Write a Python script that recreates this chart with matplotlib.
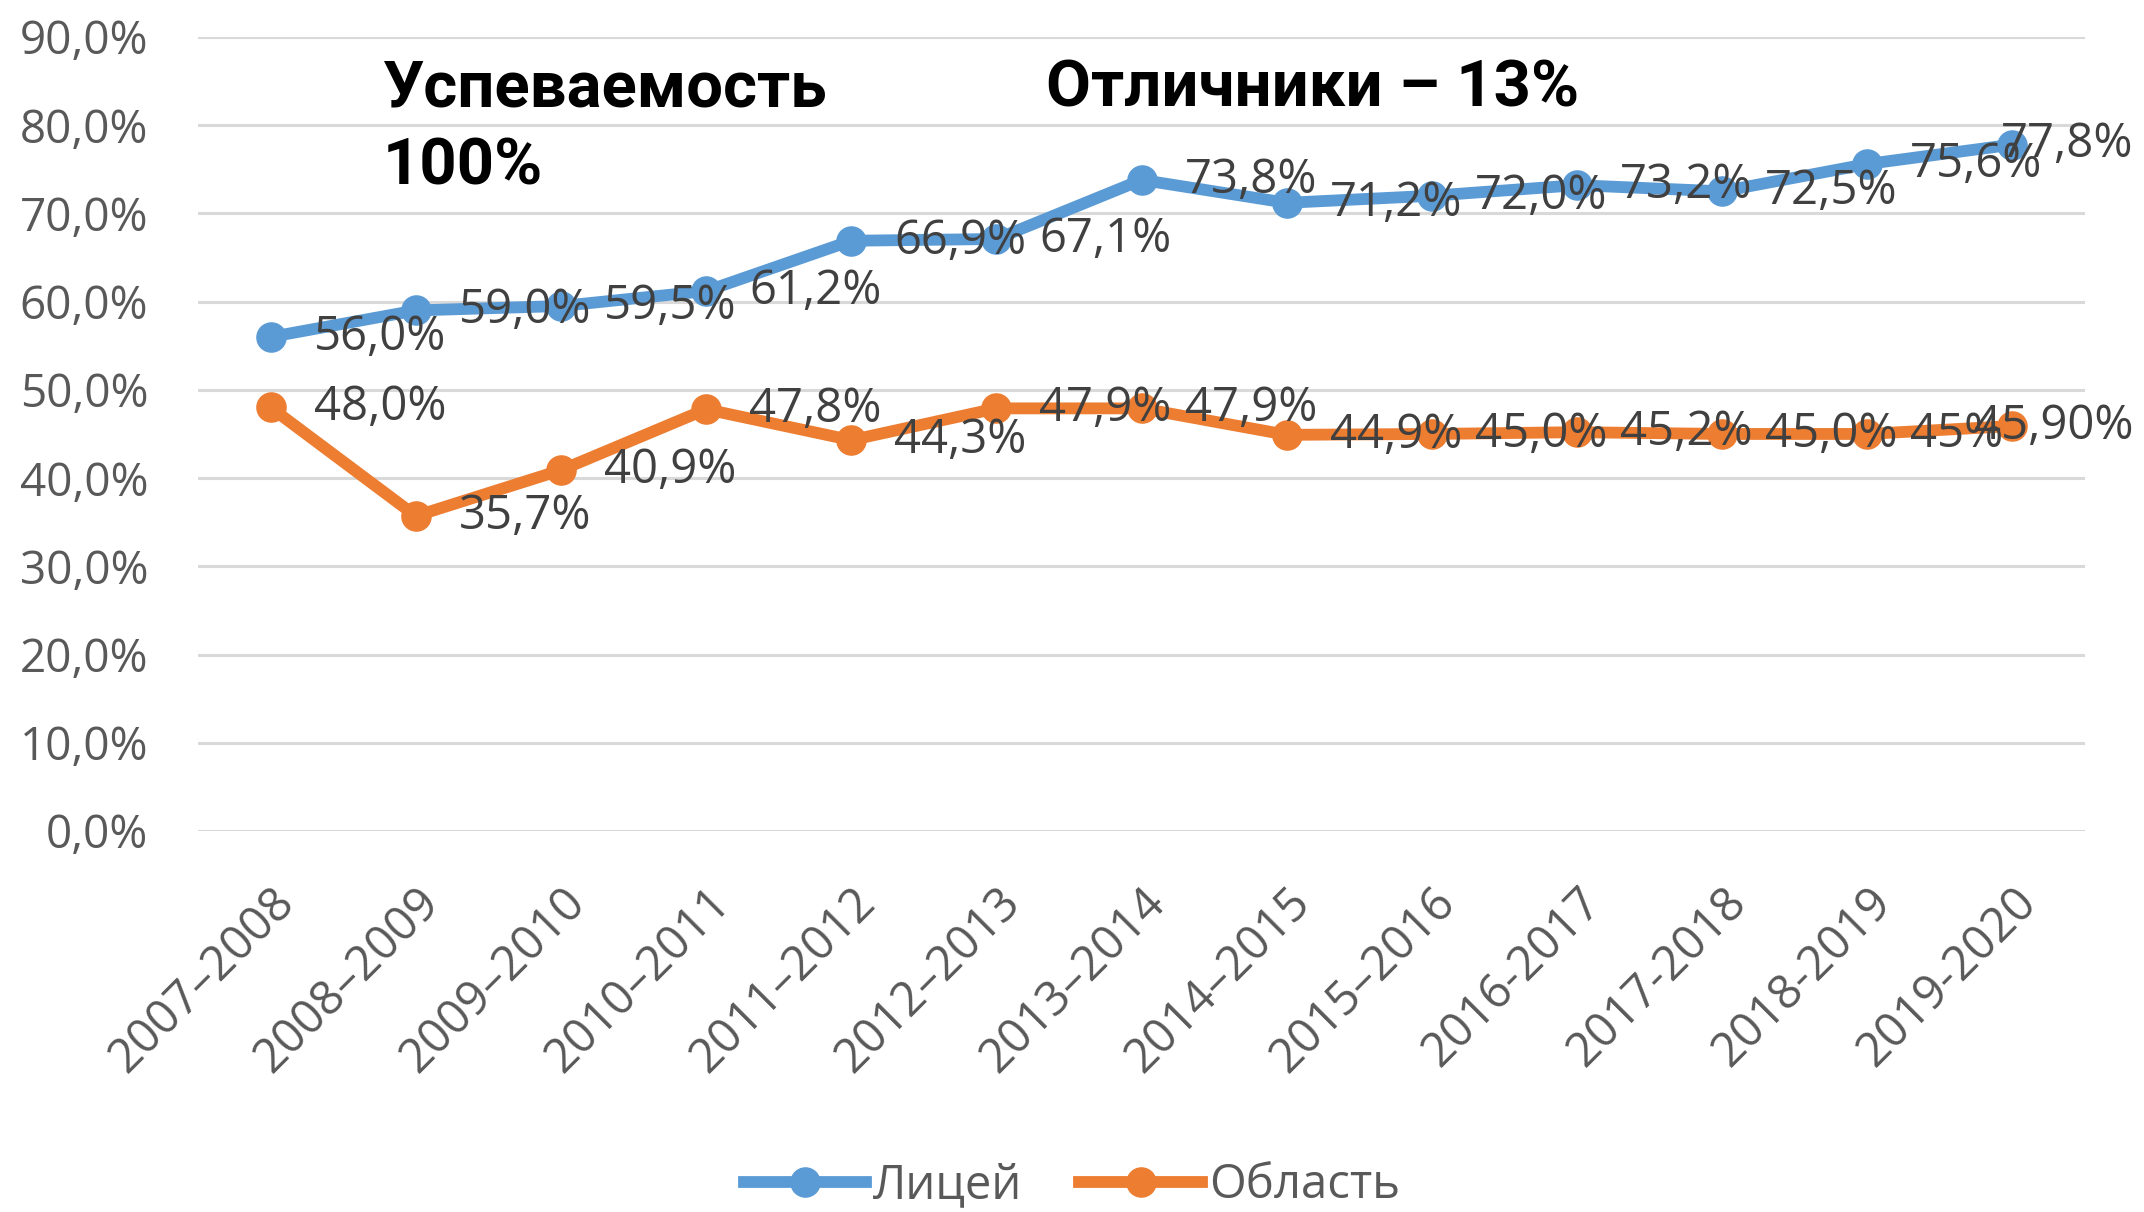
import matplotlib
matplotlib.use("Agg")
import matplotlib.pyplot as plt
from matplotlib.ticker import FuncFormatter
from matplotlib.transforms import blended_transform_factory

# данные
years = ["2007–2008", "2008–2009", "2009–2010", "2010–2011", "2011–2012",
         "2012–2013", "2013–2014", "2014–2015", "2015–2016", "2016-2017",
         "2017-2018", "2018-2019", "2019-2020"]
litsey = [56.0, 59.0, 59.5, 61.2, 66.9, 67.1, 73.8, 71.2, 72.0, 73.2, 72.5, 75.6, 77.8]
oblast = [48.0, 35.7, 40.9, 47.8, 44.3, 47.9, 47.9, 44.9, 45.0, 45.2, 45.0, 45.0, 45.9]
litsey_labels = ["56,0%", "59,0%", "59,5%", "61,2%", "66,9%", "67,1%", "73,8%",
                 "71,2%", "72,0%", "73,2%", "72,5%", "75,6%", "77,8%"]
oblast_labels = ["48,0%", "35,7%", "40,9%", "47,8%", "44,3%", "47,9%", "47,9%",
                 "44,9%", "45,0%", "45,2%", "45,0%", "45%", "45,90%"]
yticks = [0, 10, 20, 30, 40, 50, 60, 70, 80, 90]

plt.rcParams['font.family'] = ['Open Sans', 'DejaVu Sans']

blue = "#5B9BD5"
orange = "#ED7D31"
gray = "#595959"
lab_color = "#404040"

fig = plt.figure(figsize=(21.44, 12.12), dpi=100)
ax = fig.add_axes([0.0924, 0.3144, 0.8801, 0.6551])

x = list(range(len(years)))
ax.plot(x, litsey, color=blue, lw=8.5, marker="o", ms=21, label="Лицей", zorder=3)
ax.plot(x, oblast, color=orange, lw=8.5, marker="o", ms=21, label="Область", zorder=3)

# подписи значений; последние прижаты к правому краю, как в Excel
edge = blended_transform_factory(fig.transFigure, ax.transData)
for vals, labels in [(litsey, litsey_labels), (oblast, oblast_labels)]:
    for xi, v, t in zip(x, vals, labels):
        if xi == len(x) - 1:
            ax.text(0.995, v, t, transform=edge, va="center", ha="right",
                    fontsize=34, color=lab_color, zorder=4)
        else:
            ax.annotate(t, (xi, v), xytext=(31, 0), textcoords="offset points",
                        va="center", ha="left", fontsize=34, color=lab_color, zorder=4)

ax.set_xlim(-0.5, len(years) - 0.5)
ax.set_ylim(0, 90)
ax.set_yticks(yticks)
ax.yaxis.set_major_formatter(FuncFormatter(lambda v, p: f"{v:.1f}%".replace(".", ",")))
ax.set_xticks(x)
ax.set_xticklabels(years, rotation=45, ha="right", va="top", rotation_mode="anchor")
ax.tick_params(axis="both", length=0, labelcolor=gray)
ax.tick_params(axis="x", pad=34, labelsize=34)
ax.tick_params(axis="y", pad=36, labelsize=33)
ax.grid(axis="y", color="#D9D9D9", lw=2.2)
ax.set_axisbelow(True)
for s in ax.spines.values():
    s.set_visible(False)

bold_font = ['Roboto', 'DejaVu Sans']
fig.text(383 / 2144, 0.912, "Успеваемость", fontsize=47, fontweight="bold",
         family=bold_font, va="baseline", ha="left")
fig.text(383 / 2144, 0.848, "100%", fontsize=47, fontweight="bold",
         family=bold_font, va="baseline", ha="left")
fig.text(1046 / 2144, 0.912, "Отличники – 13%", fontsize=47, fontweight="bold",
         family=bold_font, va="baseline", ha="left")

fig.legend(loc="center", bbox_to_anchor=(0.5, 0.022), ncol=2, frameon=False,
           fontsize=34, handlelength=2.6, handletextpad=0.15, columnspacing=1.2,
           labelcolor=gray)

fig.savefig("out.png", dpi=100)
